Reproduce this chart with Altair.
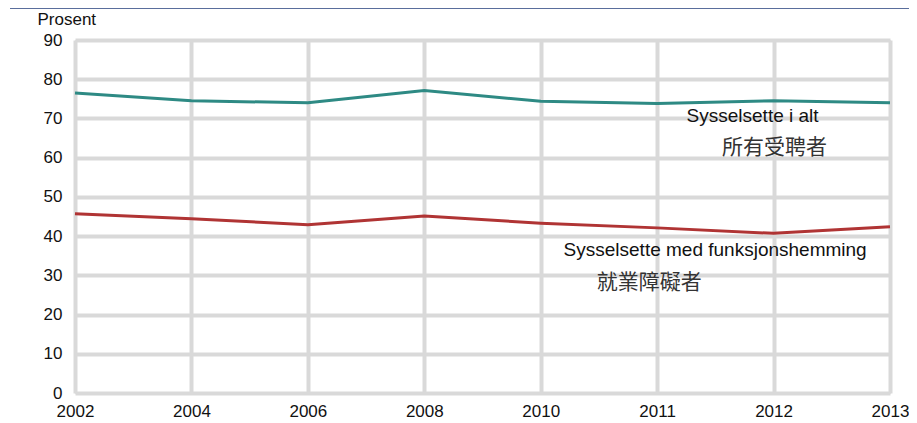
import altair as alt
import pandas as pd

years = ["2002", "2004", "2006", "2008", "2010", "2011", "2012", "2013"]
total = [76.5, 74.5, 74.0, 77.1, 74.4, 73.8, 74.5, 74.0]
disabled = [45.7, 44.4, 42.9, 45.1, 43.3, 42.1, 40.7, 42.4]
series_names = ["Sysselsette i alt", "Sysselsette med funksjonshemming"]
series_colors = ["#2e8a84", "#b03434"]

ann_text = ["Sysselsette i alt", "所有受聘者", "Sysselsette med funksjonshemming", "就業障礙者"]
ann_year = ["2012", "2012", "2011", "2011"]
ann_value = [70.6, 62.5, 36.5, 28.0]
ann_dx = [-21, 1, 58, -8]
ann_font = ["Liberation Sans", "Noto Sans CJK TC", "Liberation Sans", "Noto Sans CJK TC"]
ann_size = [19, 21, 19, 21]
ann_color = ["#111111", "#333333", "#111111", "#333333"]

rows = []
for y, v in zip(years, total):
    rows.append({"year": y, "value": v, "series": series_names[0]})
for y, v in zip(years, disabled):
    rows.append({"year": y, "value": v, "series": series_names[1]})
df = pd.DataFrame(rows)

x_enc = alt.X("year:O", sort=years,
              scale=alt.Scale(type="point", padding=0),
              axis=alt.Axis(title=None, labelAngle=0, grid=True, gridColor="#d9d9d9",
                            gridWidth=4, domain=False, ticks=False, labelPadding=10,
                            labelOverlap=False,
                            labelFontSize=17, labelFont="Liberation Sans", labelColor="#111111"))
y_enc = alt.Y("value:Q",
              scale=alt.Scale(domain=[0, 90], nice=False),
              axis=alt.Axis(title="Prosent", titleAngle=0, titleAlign="left",
                            titleBaseline="alphabetic", titleX=-38, titleY=-16,
                            titleFontSize=17, titleFontWeight="normal", titleFont="Liberation Sans",
                            titleColor="#111111", labelOverlap=False,
                            values=list(range(0, 91, 10)), grid=True, gridColor="#d9d9d9",
                            gridWidth=4, domain=False, ticks=False, labelPadding=13,
                            labelFontSize=17, labelFont="Liberation Sans", labelColor="#111111"))

lines = alt.Chart(df).mark_line(strokeWidth=3, interpolate="linear").encode(
    x=x_enc, y=y_enc,
    color=alt.Color("series:N", scale=alt.Scale(domain=series_names, range=series_colors), legend=None),
)

layers = [lines]
for t, yr, v, dx, f, s, c in zip(ann_text, ann_year, ann_value, ann_dx, ann_font, ann_size, ann_color):
    d = pd.DataFrame({"year": [yr], "value": [v], "label": [t]})
    layers.append(
        alt.Chart(d).mark_text(font=f, fontSize=s, color=c, align="center", baseline="middle", dx=dx)
        .encode(x=x_enc, y=y_enc, text="label:N")
    )

top_rule = alt.Chart(pd.DataFrame({"a": [0]})).mark_rule(color="#5a6e9c", strokeWidth=2).encode(
    x=alt.value(-65), x2=alt.value(834), y=alt.value(-32)
)
layers.append(top_rule)

chart = alt.layer(*layers).properties(
    width=815, height=353,
    autosize=alt.AutoSizeParams(type="none"),
    padding={"left": 67, "top": 32, "right": 19, "bottom": 30},
).configure_view(stroke=None).configure(background="white")

chart.save("out.html", embed_options={"renderer": "svg", "actions": False})
